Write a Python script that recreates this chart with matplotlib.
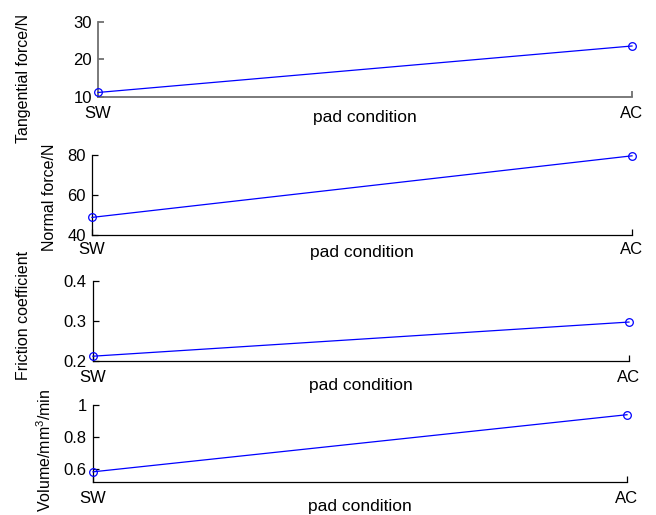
import matplotlib
matplotlib.use('Agg')
import matplotlib.pyplot as plt
from matplotlib.ticker import FormatStrFormatter

plt.rcParams['font.family'] = ['Liberation Sans', 'DejaVu Sans']
plt.rcParams['mathtext.fontset'] = 'custom'
plt.rcParams['mathtext.rm'] = 'Liberation Sans'
plt.rcParams['mathtext.default'] = 'regular'

# measured results for the two pad conditions
conditions = ['SW', 'AC']
tangential_force = [11.2, 23.6]
normal_force = [48.8, 79.6]
friction_coeff = [0.212, 0.297]
wear_volume = [0.585, 0.94]

x = [1, 2]

fig = plt.figure(figsize=(6.56, 5.15), dpi=100)

# axes boxes (left, bottom, width, height) in figure fractions
boxes = [
    [0.1494, 0.8117, 0.8140, 0.1456],
    [0.1402, 0.5437, 0.8232, 0.1553],
    [0.1418, 0.2990, 0.8170, 0.1560],
    [0.1418, 0.0635, 0.8140, 0.1500],
]
series = [tangential_force, normal_force, friction_coeff, wear_volume]
ylabels = ['Tangential force/N', 'Normal force/N', 'Friction coefficient',
           'Volume/mm$^3$/min']
ylims = [(10, 30), (40, 80), (0.2, 0.4), (0.52, 1.0)]
yticks = [[10, 20, 30], [40, 60, 80], [0.2, 0.3, 0.4], [0.6, 0.8, 1.0]]
ylabel_xy = [(-0.139, 0.24), (-0.078, 0.475), (-0.129, 0.573), (-0.09, 0.42)]
xlabel_y = [-0.173, -0.125, -0.212, -0.216]
xpads = [6.5, 5.0, 6.5, 6.5]

for i in range(4):
    ax = fig.add_axes(boxes[i])
    ax.plot(x, series[i], color='blue', lw=0.9, marker='o', ms=5.5,
            mfc='none', mec='blue', mew=0.9, clip_on=False, zorder=5)
    ax.set_xlim(1, 2)
    ax.set_ylim(*ylims[i])
    ax.set_xticks(x)
    ax.set_xticklabels(conditions)
    ax.set_yticks(yticks[i])
    ax.yaxis.set_major_formatter(FormatStrFormatter('%g'))
    for side in ['top', 'right']:
        ax.spines[side].set_visible(False)
    edge = '#707070' if i == 0 else 'black'
    lw = 1.3 if i == 0 else 0.9
    for side in ['left', 'bottom']:
        ax.spines[side].set_color(edge)
        ax.spines[side].set_linewidth(lw)
    ax.tick_params(direction='in', length=4, width=lw, color=edge,
                   labelsize=12)
    ax.tick_params(axis='x', pad=xpads[i])
    ax.tick_params(axis='y', pad=4.5)
    ax.set_xlabel('pad condition', fontsize=12.5)
    ax.xaxis.set_label_coords(0.5, xlabel_y[i])
    ax.set_ylabel(ylabels[i], fontsize=11.5, va='center')
    ax.yaxis.set_label_coords(*ylabel_xy[i])

fig.savefig('out.png', dpi=100)
